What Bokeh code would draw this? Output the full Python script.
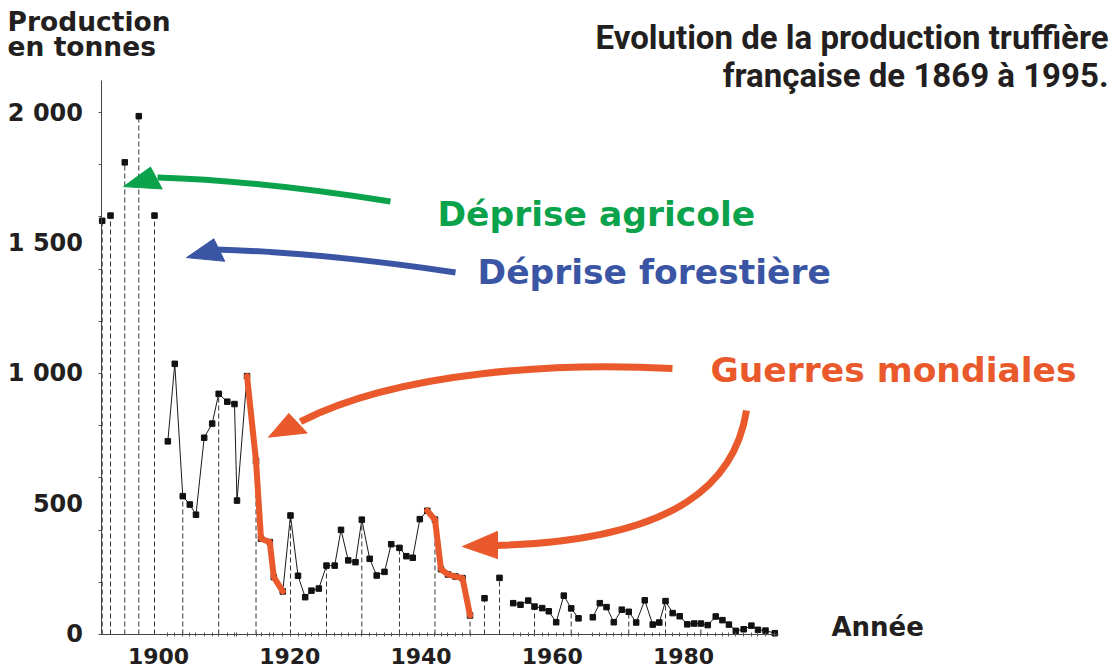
from bokeh.plotting import figure
from bokeh.models import Range1d, FixedTicker, Label
from bokeh.embed import file_html
from bokeh.resources import INLINE

# ---------------- data (x as read on the printed "Année" axis) -------------
annees_anciennes = [1891.42, 1892.69, 1894.86, 1897.00, 1899.39]
prod_anciennes = [1585, 1605, 1809, 1986, 1605]

annees_1900 = [1901.42, 1902.48, 1903.70, 1904.77, 1905.71, 1906.96, 1908.18, 1909.17, 1910.48,
               1911.58, 1911.96, 1913.49, 1914.86, 1915.62, 1916.96, 1917.57, 1918.94, 1920.11,
               1921.26, 1922.35, 1923.31, 1924.43, 1925.60, 1926.85, 1927.81, 1928.91, 1930.02,
               1930.98, 1932.18, 1933.25, 1934.44, 1935.46, 1936.72, 1937.76, 1938.74, 1939.82,
               1940.95, 1942.13, 1943.05, 1944.11, 1945.26, 1946.32, 1947.47]
prod_1900 = [740, 1037, 530, 498, 459, 754, 808, 922, 892, 883, 513, 990, 665, 367, 354, 220,
             165, 456, 225, 143, 168, 176, 264, 264, 401, 284, 277, 440, 290, 226, 240, 346, 332,
             300, 294, 442, 474, 440, 250, 230, 222, 216, 73]

annees_isolees = [1949.68, 1951.96]
prod_isolees = [139, 217]

annees_1950 = [1954.05, 1955.16, 1956.34, 1957.30, 1958.47, 1959.47, 1960.60, 1961.76, 1962.89, 1964.00]
prod_1950 = [120, 114, 130, 107, 101, 89, 47, 149, 100, 62]

annees_1966 = [1966.18, 1967.25, 1968.27, 1969.38, 1970.60, 1971.66, 1972.79, 1974.10, 1975.31,
               1976.31, 1977.26, 1978.35, 1979.42, 1980.58, 1981.63, 1982.65, 1983.69, 1984.91,
               1985.93, 1986.92, 1987.97, 1989.17, 1990.35, 1991.35, 1992.50, 1993.91]
prod_1966 = [66, 120, 105, 47, 95, 87, 46, 131, 38, 46, 128, 82, 70, 39, 42, 42, 36, 69, 55, 38,
             14, 20, 34, 18, 15, 5]

# indices carrying a dashed guide down to the axis
pointilles_1900 = [2, 7, 12, 17, 22, 27, 32, 37, 42]
pointilles_1950 = [3, 8]
pointilles_1966 = [5, 10, 15, 20]

# war periods highlighted (index slices in annees_1900)
guerre_1 = (11, 17)
guerre_2 = (36, 43)

x_ticks = [1900, 1920, 1940, 1960, 1980]
y_ticks = [0, 500, 1000, 1500, 2000]
y_tick_labels = {0: "0", 500: "500", 1000: "1 000", 1500: "1 500", 2000: "2 000"}
y_minor = [0, 200, 400, 600, 800, 1000, 1200, 1400, 1600, 1800, 2000]

ROUGE = "#e9592c"
VERT = "#0aa34c"
BLEU = "#3b55a5"
NOIR = "#231f20"
FONT = "DejaVu Sans"

X0, X1 = 1875.924, 2045.524
Y0, Y1 = -130.27, 2429.12
AXE_X = 1891.39

p = figure(width=1113, height=668, output_backend="svg", toolbar_location=None,
           x_range=Range1d(X0, X1), y_range=Range1d(Y0, Y1),
           min_border_left=0, min_border_right=0, min_border_top=0, min_border_bottom=0)
p.xgrid.visible = False
p.ygrid.visible = False
p.outline_line_color = None
p.background_fill_color = "white"

# axes (drawn inside the frame at their data location)
xa = p.xaxis[0]
xa.fixed_location = 0
xa.ticker = FixedTicker(ticks=x_ticks, minor_ticks=annees_1900 + annees_1950 + annees_1966)
xa.bounds = (1891.16, 1994.48)
xa.axis_line_color = "#444444"
xa.major_tick_line_color = None
xa.minor_tick_line_color = "#555555"
xa.minor_tick_in = 2
xa.minor_tick_out = 2
xa.major_label_text_font = FONT
xa.major_label_text_font_style = "bold"
xa.major_label_text_font_size = "22px"
xa.major_label_text_color = NOIR
xa.major_label_standoff = 8

ya = p.yaxis[0]
ya.fixed_location = AXE_X
ya.ticker = FixedTicker(ticks=y_ticks, minor_ticks=y_minor)
ya.major_label_overrides = y_tick_labels
ya.bounds = (0, 2122)
ya.axis_line_color = "#444444"
ya.major_tick_line_color = None
ya.minor_tick_line_color = "#555555"
ya.minor_tick_in = 0
ya.minor_tick_out = 3
ya.major_label_text_font = FONT
ya.major_label_text_font_style = "bold"
ya.major_label_text_font_size = "24px"
ya.major_label_text_color = NOIR
ya.major_label_standoff = 13

# dashed guides
sx, sy = [], []
sx += annees_anciennes
sy += prod_anciennes
sx += annees_isolees
sy += prod_isolees
sx += [annees_1900[i] for i in pointilles_1900]
sy += [prod_1900[i] for i in pointilles_1900]
sx += [annees_1950[i] for i in pointilles_1950]
sy += [prod_1950[i] for i in pointilles_1950]
sx += [annees_1966[i] for i in pointilles_1966]
sy += [prod_1966[i] for i in pointilles_1966]
p.segment(x0=sx, y0=[0] * len(sx), x1=sx, y1=sy, line_color="#333333", line_width=1,
          line_dash="5 3")

# series lines and points
for xs, ys in [(annees_1900, prod_1900), (annees_1950, prod_1950), (annees_1966, prod_1966)]:
    p.line(xs, ys, line_color="#1a1a1a", line_width=1)
for xs, ys in [(annees_anciennes, prod_anciennes), (annees_1900, prod_1900),
               (annees_isolees, prod_isolees), (annees_1950, prod_1950), (annees_1966, prod_1966)]:
    p.scatter(xs, ys, marker="square", size=5.5, fill_color="#111111", line_color="#111111")

# war highlights
for a, b in [guerre_1, guerre_2]:
    p.line(annees_1900[a:b], prod_1900[a:b], line_color=ROUGE, line_width=6,
           line_join="round", line_cap="round")

# ---------------- arrows (annotation shapes, data coordinates) -----------------
p.quadratic(x0=[1935.35], y0=[1659], x1=[1899.85], y1=[1751], cx=[1915.54], cy=[1739],
            line_color=VERT, line_width=6)
p.patch([1894.67, 1898.78, 1900.56], [1716, 1791, 1707], fill_color=VERT, line_color=VERT)

p.quadratic(x0=[1945.26], y0=[1387], x1=[1908.69], y1=[1475], cx=[1924.69], cy=[1464],
            line_color=BLEU, line_width=6)
p.patch([1904.27, 1908.43, 1910.10], [1444, 1516, 1430], fill_color=BLEU, line_color=BLEU)

p.bezier(x0=[1978.32], y0=[1019], x1=[1921.64], y1=[816], cx0=[1961.26], cy0=[1042],
         cx1=[1936.88], cy1=[1011], line_color=ROUGE, line_width=7)
p.patch([1916.76, 1919.86, 1922.66], [756, 847, 772], fill_color=ROUGE, line_color=ROUGE)

p.bezier(x0=[1989.6], y0=[858], x1=[1951.35], y1=[341], cx0=[1987.92], cy0=[590],
         cx1=[1979.54], cy1=[360], line_color=ROUGE, line_width=7)
p.patch([1946.32, 1951.66, 1951.66], [337, 395, 291], fill_color=ROUGE, line_color=ROUGE)


# ---------------- texts -----------------
def lab(x, y, t, color, size, align="left", font=FONT):
    p.add_layout(Label(x=x, y=y, text=t, text_color=color, text_font=font,
                       text_font_style="bold", text_font_size=size, text_align=align,
                       text_baseline="middle"))


lab(1942.51, 1613, "Déprise agricole", VERT, "34.5px")
lab(1948.61, 1387, "Déprise forestière", BLEU, "34.5px")
lab(1984.11, 1015, "Guerres mondiales", ROUGE, "34.5px")
lab(2002.55, 27, "Année", NOIR, "26px")
lab(1877.0, 2349, "Production", NOIR, "26.5px")
lab(1877.0, 2253, "en tonnes", NOIR, "26.5px")
lab(2044.76, 2287, "Evolution de la production truffière", NOIR, "33px",
    align="right", font="Roboto")
lab(2044.76, 2142, "française de 1869 à 1995.", NOIR, "33px",
    align="right", font="Roboto")

open("out.html", "w").write(file_html(p, INLINE))
